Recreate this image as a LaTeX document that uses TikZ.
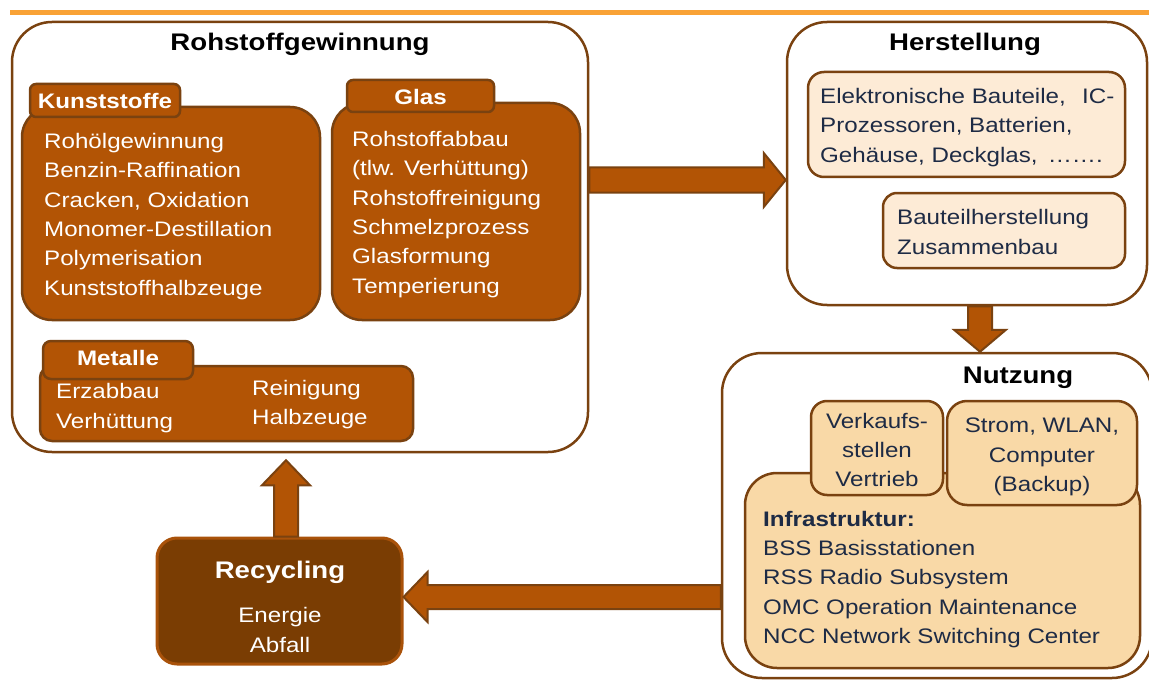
\documentclass[tikz,border=0pt]{standalone}
\usepackage{fontspec}
\setmainfont{Liberation Sans}[FakeStretch=1.15]
\usetikzlibrary{calc}

\definecolor{rust}{HTML}{B25405}
\definecolor{edge}{HTML}{7A4210}
\definecolor{peach}{HTML}{FDEBD6}
\definecolor{sand}{HTML}{F9D9A7}
\definecolor{recfill}{HTML}{7A3D03}
\definecolor{recedge}{HTML}{A9520A}
\definecolor{navy}{HTML}{1E2B45}
\definecolor{topline}{HTML}{F9A236}

\begin{document}
\begin{tikzpicture}[x=1pt,y=-1pt,
  stagebox/.style={draw=edge, line width=2.5, fill=white, rounded corners=40},
  matbody/.style={draw=edge, line width=2.5, fill=rust},
  mattab/.style={draw=edge, line width=2.5, fill=rust, rounded corners=6},
  lightbox/.style={draw=edge, line width=2.5, fill=peach, rounded corners=16},
  sandbox/.style={draw=edge, line width=2.5, fill=sand},
  stagetitle/.style={inner sep=0, font={\fontsize{24}{30}\selectfont\bfseries}},
  tablabel/.style={inner sep=0, text=white, font={\fontsize{21}{25}\selectfont\bfseries}},
  whitetext/.style={inner sep=0, text=white, align=left, anchor=west, font={\fontsize{21}{29.3}\selectfont}},
  darktext/.style={inner sep=0, text=navy, align=left, anchor=west, font={\fontsize{21}{29.4}\selectfont}},
  blockarrow/.style={fill=rust, draw=edge, line width=2, line join=miter}
]
\useasboundingbox (0,0) rectangle (1149,682);

% orange rule across the top
\draw[topline, line width=5] (10,13) -- (1149,13);

% ---------- Rohstoffgewinnung ----------
\node[stagebox, minimum width=576, minimum height=430] (roh) at (300,237) {};
\node[stagetitle] (rohT) at (300,44) {Rohstoffgewinnung};

\node[matbody, rounded corners=30, minimum width=298, minimum height=213] (kunst) at (171,213.5) {};
\node[mattab, minimum width=150, minimum height=33] (kunstTab) at (105,100.5) {};
\node[tablabel] (kunstL) at (105,101) {Kunststoffe};
\node[whitetext] (kunstX) at (44,216.5) {Rohölgewinnung\\Benzin-Raffination\\Cracken, Oxidation\\Monomer-Destillation\\Polymerisation\\Kunststoffhalbzeuge};

\node[matbody, rounded corners=30, minimum width=248, minimum height=217] (glas) at (456,211.5) {};
\node[mattab, minimum width=147, minimum height=32] (glasTab) at (420.5,96) {};
\node[tablabel] (glasL) at (420.5,97) {Glas};
\node[whitetext] (glasX) at (352,214.5) {Rohstoffabbau\\(tlw. Verhüttung)\\Rohstoffreinigung\\Schmelzprozess\\Glasformung\\Temperierung};

\node[matbody, rounded corners=12, minimum width=373, minimum height=75] (metall) at (226.5,403.5) {};
\node[mattab, rounded corners=8, minimum width=150, minimum height=38] (metallTab) at (118,360) {};
\node[tablabel] (metallL) at (118,358) {Metalle};
\node[whitetext] (metallA) at (56,408) {Erzabbau\\Verhüttung};
\node[whitetext] (metallB) at (252,404.5) {Reinigung\\Halbzeuge};

% ---------- Herstellung ----------
\node[stagebox, minimum width=360, minimum height=283] (her) at (967,163.5) {};
\node[stagetitle] (herT) at (965,44) {Herstellung};
\node[lightbox, minimum width=317, minimum height=105] (teile) at (966.5,124.5) {};
\node[darktext] (teileX) at (820,127.5) {Elektronische Bauteile,~~\hspace{3pt}IC-\\Prozessoren, Batterien,\\Gehäuse, Deckglas, \,…….};
\node[lightbox, rounded corners=14, minimum width=242, minimum height=75] (bau) at (1004,230.5) {};
\node[darktext] (bauX) at (897,232) {Bauteilherstellung\\Zusammenbau};

% ---------- Nutzung ----------
\node[stagebox, minimum width=430, minimum height=325] (nut) at (937,515.5) {};
\node[stagetitle] (nutT) at (1018,378) {Nutzung};
\node[sandbox, rounded corners=32, minimum width=395, minimum height=195] (infra) at (942.5,570.5) {};
\node[darktext] (infraX) at (763,579.5) {\textbf{Infrastruktur:}\\BSS Basisstationen\\RSS Radio Subsystem\\OMC Operation Maintenance\\NCC Network Switching Center};
\node[sandbox, rounded corners=16, minimum width=132, minimum height=94] (verk) at (877,448) {};
\node[darktext, align=center, anchor=center] (verkX) at (877,450) {Verkaufs-\\stellen\\Vertrieb};
\node[sandbox, rounded corners=20, minimum width=190, minimum height=104] (strom) at (1042,453) {};
\node[darktext, align=center, anchor=center] (stromX) at (1042,457) {Strom, WLAN,\\Computer\\(Backup)};

% ---------- Recycling ----------
\node[draw=recedge, line width=3, fill=recfill, rounded corners=20, minimum width=245, minimum height=126] (rec) at (279.5,601) {};
\node[stagetitle, text=white] (recT) at (280,572) {Recycling};
\node[whitetext, align=center, anchor=center] (recX) at (280,630) {Energie\\Abfall};

% ---------- block arrows between the stages ----------
\coordinate (ya) at (0,180);
\coordinate (xb) at (980,0);
\coordinate (yc) at (0,597);
\coordinate (xd) at (286,0);

% Rohstoffgewinnung -> Herstellung
\coordinate (a1) at (roh.east |- ya);
\coordinate (a2) at (her.west |- ya);
\draw[blockarrow] ($(a1)+(0,-12.5)$) -- ($(a2)+(-22,-12.5)$) -- ($(a2)+(-22,-27)$) -- (a2)
  -- ($(a2)+(-22,27)$) -- ($(a2)+(-22,12.5)$) -- ($(a1)+(0,12.5)$) -- cycle;

% Herstellung -> Nutzung
\coordinate (b1) at (her.south -| xb);
\coordinate (b2) at (nut.north -| xb);
\draw[blockarrow] ($(b1)+(-12,0)$) -- ($(b2)+(-12,-22)$) -- ($(b2)+(-26,-22)$) -- (b2)
  -- ($(b2)+(26,-22)$) -- ($(b2)+(12,-22)$) -- ($(b1)+(12,0)$) -- cycle;

% Nutzung -> Recycling
\coordinate (c1) at (nut.west |- yc);
\coordinate (c2) at (rec.east |- yc);
\draw[blockarrow] ($(c1)+(0,-12)$) -- ($(c2)+(24,-12)$) -- ($(c2)+(24,-25)$) -- (c2)
  -- ($(c2)+(24,25)$) -- ($(c2)+(24,12)$) -- ($(c1)+(0,12)$) -- cycle;

% Recycling -> Rohstoffgewinnung
\coordinate (d1) at (rec.north -| xd);
\coordinate (d2) at ($(roh.south -| xd)+(0,7)$);
\draw[blockarrow] ($(d1)+(-12,0)$) -- ($(d2)+(-12,25)$) -- ($(d2)+(-24,25)$) -- (d2)
  -- ($(d2)+(24,25)$) -- ($(d2)+(12,25)$) -- ($(d1)+(12,0)$) -- cycle;
\end{tikzpicture}
\end{document}
